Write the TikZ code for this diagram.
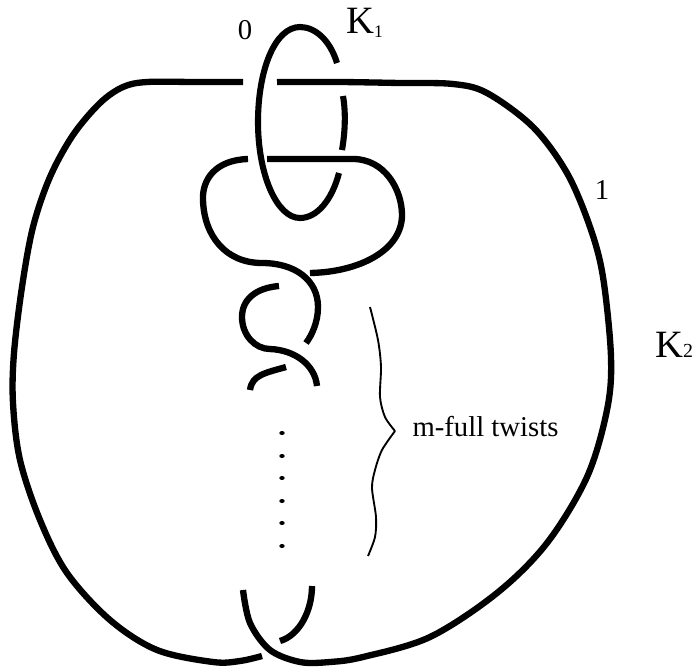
\documentclass[tikz,border=0pt]{standalone}
\usepackage{fontspec}
\setmainfont{Liberation Serif}
\begin{document}
\begin{tikzpicture}[
  x=0.03cm, y=-0.03cm,
  strand/.style={line width=5.4pt, line cap=butt, line join=round},
  ring/.style={line width=5.2pt, line cap=butt},
  bracket/.style={line width=1.6pt, line join=miter},
  lab/.style={inner sep=0pt, anchor=base, font=\fontsize{24.5}{26}\selectfont},
  biglab/.style={inner sep=0pt, anchor=base west, font=\fontsize{33}{36}\selectfont}]
  \useasboundingbox (0,0) rectangle (693,670);
  % K1
  \draw[ring] (337,63) .. controls (330,40) and (315,27) .. (300,27) .. controls (275,27) and (258,70) .. (258,122) .. controls (258,175) and (277,218) .. (300,218) .. controls (317,218) and (332,200) .. (339,173);
  \draw[ring] (343,96) .. controls (346,113) and (345,133) .. (342,150);
  % K2 outer
  \draw[strand] plot[smooth, tension=0.55] coordinates {(243,82) (195,82) (147,82) (123,87) (100,103) (73,135) (50,177) (33,227) (22,287) (14,353) (13,403) (20,460) (40,520) (67,573) (110,620) (157,650) (213,662) (240,661) (262,656)};
  \draw[strand] plot[smooth, tension=0.55] coordinates {(277,82) (340,82) (400,83) (453,84) (487,93) (533,127) (567,173) (590,227) (603,277) (611,357) (607,410) (587,477) (547,543) (497,593) (430,637) (363,657) (330,662) (300,662) (270,650) (250,623) (243,590)};
  % twists
  \draw[strand] (248,159) .. controls (215,160) and (202,180) .. (203,200) .. controls (204,235) and (225,263) .. (262,263) .. controls (295,263) and (318,280) .. (318,307) .. controls (318,322) and (312,335) .. (306,343);
  \draw[strand] (267,159) -- (353,159) .. controls (385,159) and (402,190) .. (402,215) .. controls (402,250) and (360,272) .. (310,273);
  \draw[strand] (279,286) .. controls (255,288) and (242,300) .. (242,317) .. controls (242,335) and (255,349) .. (270,349) .. controls (295,350) and (315,365) .. (317,386);
  \draw[strand] (286,367) .. controls (265,373) and (252,375) .. (250,390);
  \draw[strand] (312,586) .. controls (312,610) and (300,635) .. (280,641);
  % dots
  \foreach \py in {433,456,478,501,523,546}
    \fill (282,\py) ellipse (2.7 and 2);
  % brace
  \draw[bracket] plot[smooth] coordinates {(370,307) (378,340) (381,367) (380,397) (385,417) (395,431)};
  \draw[bracket] plot[smooth] coordinates {(395,431) (382,450) (375,470) (372,488) (376,517) (375,537) (368,556)};
  % labels
  \node[lab] (zero) at (245,39) {0};
  \node[biglab] (kone) at (346,33) {K\raisebox{-4pt}{\fontsize{15}{16}\selectfont 1}};
  \node[lab] (one) at (602,199) {1};
  \node[biglab] (ktwo) at (655,357) {K\fontsize{17}{18}\selectfont 2};
  \node[lab] (twists) at (485.5,436) {m-full twists};
\end{tikzpicture}
\end{document}
